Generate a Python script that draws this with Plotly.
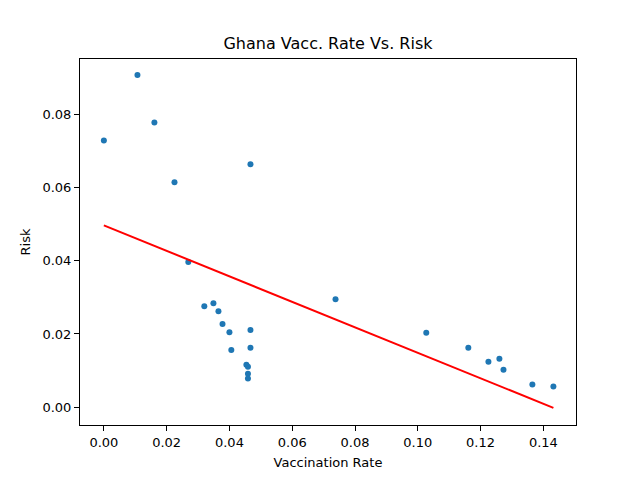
import plotly.graph_objects as go

# Vaccination rate vs. risk, Ghana
vacc_rate = [0.0107, 0.0161, 0.0000, 0.0467, 0.0225, 0.0269, 0.0320, 0.0349,
             0.0365, 0.0378, 0.0400, 0.0467, 0.0406, 0.0467, 0.0454, 0.0459,
             0.0459, 0.0459, 0.0738, 0.1027, 0.1161, 0.1225, 0.1260, 0.1273,
             0.1365, 0.1432]
risk = [0.0908, 0.0778, 0.0729, 0.0664, 0.0615, 0.0397, 0.0276, 0.0284,
        0.0262, 0.0227, 0.0205, 0.0211, 0.0156, 0.0162, 0.0116, 0.0110,
        0.0091, 0.0078, 0.0295, 0.0203, 0.0162, 0.0124, 0.0132, 0.0102,
        0.0062, 0.0056]

# fitted linear trend endpoints
fit_x = [0.0, 0.1432]
fit_y = [0.0497, -0.0002]

x_ticks = [0.00, 0.02, 0.04, 0.06, 0.08, 0.10, 0.12, 0.14]
y_ticks = [0.00, 0.02, 0.04, 0.06, 0.08]

fig = go.Figure()
fig.add_trace(go.Scatter(
    x=vacc_rate, y=risk, mode="markers",
    marker=dict(color="#1f77b4", size=6, line=dict(width=0)),
    showlegend=False,
))
fig.add_trace(go.Scatter(
    x=fit_x, y=fit_y, mode="lines",
    line=dict(color="red", width=2),
    showlegend=False,
))

axis_style = dict(
    showgrid=False, zeroline=False,
    showline=True, linecolor="black", linewidth=1, mirror=True,
    ticks="outside", ticklen=5, tickcolor="black", tickwidth=1,
    tickfont=dict(size=13, color="black"),
)

# the page body adds an 8px offset at top/left, so the figure is 8px smaller
fig.update_layout(
    width=632, height=472,
    paper_bgcolor="white", plot_bgcolor="white",
    font=dict(family="DejaVu Sans", color="black"),
    margin=dict(l=72, r=64, t=51, b=51),
    title=dict(text="Ghana Vacc. Rate Vs. Risk", x=(328 - 8) / 632,
               xanchor="center", y=1 - 35 / 472, yanchor="middle",
               font=dict(size=16)),
)
fig.update_xaxes(
    range=[-0.0076, 0.1504], tickvals=x_ticks,
    ticktext=[f"{v:.2f}" for v in x_ticks],
    title=dict(text="Vaccination Rate", font=dict(size=13), standoff=9),
    **axis_style,
)
fig.update_yaxes(
    range=[-0.0049, 0.0952], tickvals=y_ticks,
    ticktext=[f"{v:.2f}" for v in y_ticks],
    title=dict(text="Risk", font=dict(size=13), standoff=8),
    **axis_style,
)

fig.write_html("out.html")
